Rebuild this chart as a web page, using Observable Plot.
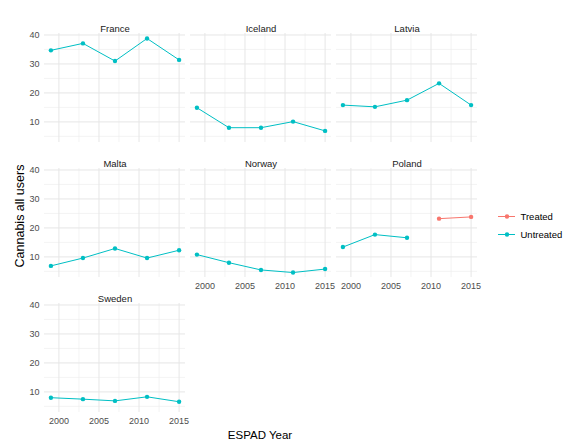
<!DOCTYPE html>
<html>
<head>
<meta charset="utf-8">
<script src="https://cdn.jsdelivr.net/npm/d3@7"></script>
<script src="https://cdn.jsdelivr.net/npm/@observablehq/plot@0.6"></script>
<style>
  body { margin: 0; background: #fff; }
  #chart { position: relative; width: 570px; height: 447px; overflow: hidden;
           font-family: Arial, "Liberation Sans", sans-serif; }
  #chart svg { position: absolute; background: transparent; }
  .title { position: absolute; color: #000; white-space: nowrap; }
</style>
</head>
<body>
<div id="chart"></div>
<script>
// ESPAD survey waves
const years = [1999, 2003, 2007, 2011, 2015];
const countries = ["France", "Iceland", "Latvia", "Malta", "Norway", "Poland", "Sweden"];
const statuses = ["Treated", "Untreated"];
const statusColors = ["#F8766D", "#00BFC4"];

// Cannabis all users (%) per wave
const france  = [34.7, 37.1, 31.0, 38.8, 31.4];
const iceland = [14.9, 8.0, 8.0, 10.1, 6.9];
const latvia  = [15.8, 15.2, 17.5, 23.3, 15.8];
const malta   = [6.9, 9.6, 12.9, 9.6, 12.3];
const norway  = [10.8, 8.0, 5.5, 4.6, 5.8];
const poland  = [13.4, 17.7, 16.6, 23.2, 23.8];
const sweden  = [8.0, 7.5, 6.9, 8.3, 6.6];
const polandStatus = ["Untreated", "Untreated", "Untreated", "Treated", "Treated"];

const xMajor = [2000, 2005, 2010, 2015];
const xMinor = [2002.5, 2007.5, 2012.5];
const yMajor = [10, 20, 30, 40];
const yMinor = [5, 15, 25, 35];

const series = {
  France: france, Iceland: iceland, Latvia: latvia, Malta: malta,
  Norway: norway, Poland: poland, Sweden: sweden
};

const rows = countries.flatMap(c => years.map((year, i) => ({
  country: c,
  year,
  value: series[c][i],
  status: c === "Poland" ? polandStatus[i] : "Untreated"
})));

// shared scales with 5% expansion, as in a fixed-scale facet grid
const expand = ([a, b]) => { const r = b - a; return [a - 0.05 * r, b + 0.05 * r]; };
const xDomain = expand(d3.extent(years));
const yDomain = expand(d3.extent(rows, d => d.value));

// facet layout: 3 columns, panels wrapped row by row
const colLeft = [43.6, 190, 336.3];
const rowTop = [32.5, 167.5, 302.5];
const panelW = 141, panelH = 109;
const nCol = 3;
const bottomOfColumn = col => {
  const idx = countries.map((c, i) => i).filter(i => i % nCol === col);
  return idx[idx.length - 1];
};

const chart = document.getElementById("chart");
const font = 'Arial, "Liberation Sans", sans-serif';

countries.forEach((name, i) => {
  const col = i % nCol, row = Math.floor(i / nCol);
  const showY = col === 0;
  const showX = bottomOfColumn(col) === i;
  const ml = showY ? 30 : 0, mt = 20, mb = showX ? 16 : 0;
  const data = rows.filter(d => d.country === name);

  const svg = Plot.plot({
    width: ml + panelW,
    height: mt + panelH + mb,
    marginLeft: ml, marginRight: 0, marginTop: mt, marginBottom: mb,
    style: { fontFamily: font, background: "transparent", overflow: "visible" },
    x: { domain: xDomain, axis: null },
    y: { domain: yDomain, axis: null },
    color: { domain: statuses, range: statusColors },
    marks: [
      Plot.gridX(xMinor, { stroke: "#EDEDED", strokeOpacity: 1, strokeWidth: 0.6 }),
      Plot.gridY(yMinor, { stroke: "#EDEDED", strokeOpacity: 1, strokeWidth: 0.6 }),
      Plot.gridX(xMajor, { stroke: "#E6E6E6", strokeOpacity: 1, strokeWidth: 1 }),
      Plot.gridY(yMajor, { stroke: "#E6E6E6", strokeOpacity: 1, strokeWidth: 1 }),
      showY ? Plot.axisY(yMajor, { tickSize: 0, tickPadding: 5, fontSize: 9, fill: "#4D4D4D", label: null }) : null,
      showX ? Plot.axisX(xMajor, { tickSize: 0, tickPadding: 5, fontSize: 9, fill: "#4D4D4D", label: null, tickFormat: "d" }) : null,
      Plot.line(data, { x: "year", y: "value", z: "status", stroke: "status", strokeWidth: 1 }),
      Plot.dot(data, { x: "year", y: "value", fill: "status", r: 2.2 }),
      Plot.text([name], { text: d => d, frameAnchor: "top", dy: -8.5, fontSize: 9.5, fill: "#1A1A1A" })
    ]
  });
  svg.style.left = (colLeft[col] - ml) + "px";
  svg.style.top = (rowTop[row] - mt) + "px";
  chart.appendChild(svg);
});

// legend: line + point key for each status
const legend = Plot.plot({
  width: 77, height: 50,
  marginLeft: 0, marginRight: 60, marginTop: 0, marginBottom: 0,
  style: { fontFamily: font, background: "transparent", overflow: "visible" },
  y: { type: "point", domain: statuses, range: [15.7, 34.3], padding: 0, axis: null },
  color: { domain: statuses, range: statusColors },
  marks: [
    Plot.tickY(statuses, { y: d => d, stroke: d => d, strokeWidth: 1 }),
    Plot.dot(statuses, { y: d => d, fill: d => d, r: 2.2 }),
    Plot.text(statuses, { y: d => d, text: d => d, frameAnchor: "right", textAnchor: "start",
                          dx: 5, fontSize: 9.5, fill: "#000" })
  ]
});
legend.style.left = "498px";
legend.style.top = "200px";
chart.appendChild(legend);

// axis titles
const xTitle = document.createElement("div");
xTitle.className = "title";
xTitle.textContent = "ESPAD Year";
xTitle.style.cssText += "font-size:11.5px;left:260px;top:435px;transform:translate(-50%,-50%);";
chart.appendChild(xTitle);

const yTitle = document.createElement("div");
yTitle.className = "title";
yTitle.textContent = "Cannabis all users";
yTitle.style.cssText += "font-size:12.5px;left:20px;top:216px;transform:translate(-50%,-50%) rotate(-90deg);";
chart.appendChild(yTitle);
</script>
</body>
</html>
